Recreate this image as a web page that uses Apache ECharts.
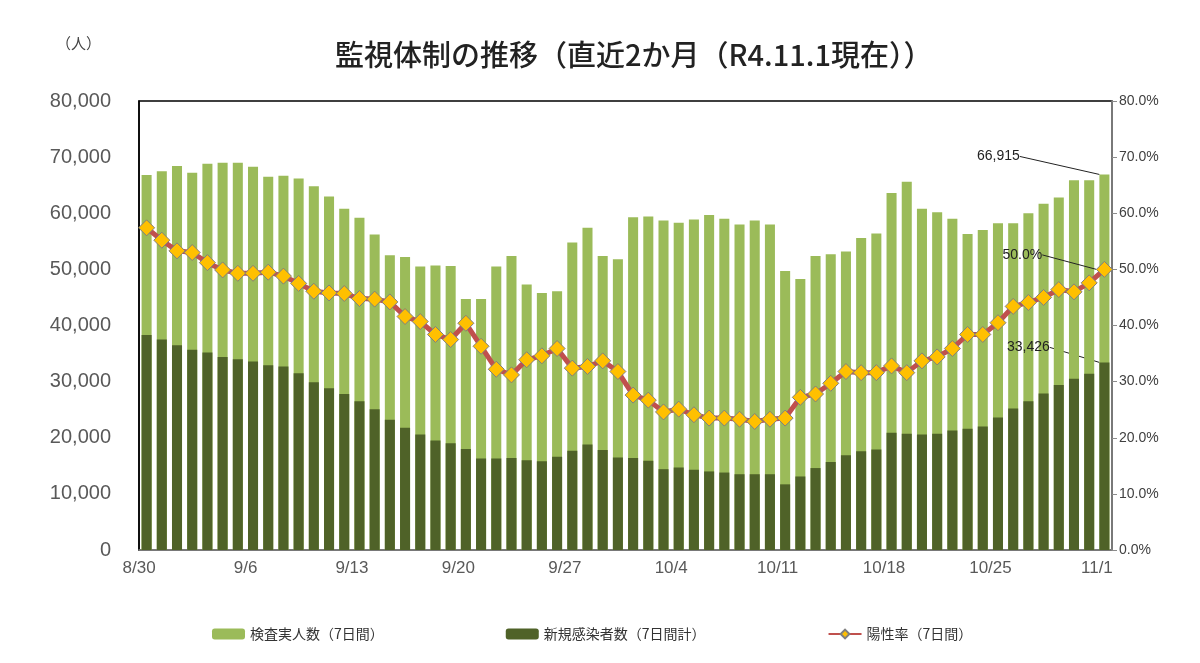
<!DOCTYPE html>
<html>
<head>
<meta charset="utf-8">
<script src="https://cdn.jsdelivr.net/npm/echarts@6/dist/echarts.min.js"></script>
<style>
  html, body { margin: 0; padding: 0; background: #fff; }
  #main { width: 1200px; height: 663px; }
</style>
</head>
<body>
<div id="main"></div>
<script>
// 8/30 - 11/1 (64日)
var days = [];
(function () {
    var d = new Date(2022, 7, 30);
    for (var i = 0; i < 64; i++) {
        days.push((d.getMonth() + 1) + '/' + d.getDate());
        d.setDate(d.getDate() + 1);
    }
})();

// 検査実人数（7日間）
var kensa = [
    66800, 67500, 68400, 67200, 68800, 69000, 69000, 68300, 66500, 66700,
    66200, 64800, 63000, 60800, 59200, 56200, 52500, 52200, 50500, 50700,
    50600, 44700, 44700, 50500, 52400, 47300, 45800, 46100, 54800, 57400,
    52400, 51800, 59300, 59400, 58700, 58300, 58900, 59700, 59000, 58000,
    58700, 58000, 49700, 48300, 52400, 52700, 53200, 55600, 56400, 63600,
    65600, 60800, 60200, 59000, 56300, 57000, 58200, 58200, 60000, 61700,
    62800, 65900, 65900, 66915
];
// 新規感染者数（7日間計）
var shinki = [
    38300, 37500, 36500, 35700, 35200, 34400, 34000, 33600, 32900, 32700,
    31500, 29900, 28800, 27800, 26500, 25100, 23200, 21800, 20600, 19500,
    19000, 18000, 16300, 16300, 16400, 16000, 15800, 16600, 17700, 18800,
    17800, 16500, 16400, 15900, 14400, 14700, 14300, 14000, 13800, 13500,
    13500, 13500, 11700, 13100, 14600, 15700, 16900, 17600, 17900, 20900,
    20700, 20600, 20700, 21300, 21600, 22000, 23600, 25200, 26500, 27900,
    29400, 30500, 31400, 33426
];
// 陽性率（7日間） %
var yousei = [
    57.4, 55.2, 53.3, 53.0, 51.2, 49.9, 49.3, 49.3, 49.5, 48.8,
    47.5, 46.1, 45.8, 45.7, 44.8, 44.7, 44.2, 41.6, 40.7, 38.4,
    37.5, 40.4, 36.3, 32.2, 31.2, 33.9, 34.6, 35.9, 32.4, 32.7,
    33.7, 31.8, 27.6, 26.7, 24.6, 25.1, 24.1, 23.5, 23.5, 23.3,
    22.9, 23.3, 23.5, 27.2, 27.8, 29.7, 31.8, 31.6, 31.6, 32.8,
    31.6, 33.7, 34.4, 35.9, 38.4, 38.4, 40.5, 43.4, 44.1, 45.0,
    46.4, 46.0, 47.6, 50.0
];

var last = days.length - 1;
var jp = "'Noto Sans CJK JP', sans-serif";
var num = "'Liberation Sans', Arial, sans-serif";

function withLastLabel(arr) {
    return arr.map(function (v, i) {
        return i === last ? { value: v, label: { show: true } } : v;
    });
}

var myChart = echarts.init(document.getElementById('main'));
var option = {
    animation: false,
    title: {
        text: '監視体制の推移（直近2か月（R4.11.1現在））',
        left: 330,
        top: 35,
        textStyle: { fontFamily: jp, fontSize: 29, fontWeight: 500, color: '#222' }
    },
    graphic: [{
        type: 'text',
        left: 56,
        top: 36,
        style: { text: '（人）', font: '15px ' + jp, fill: '#444' }
    }],
    legend: {
        left: 207,
        top: 622,
        itemGap: 122,
        itemWidth: 33,
        itemHeight: 11,
        textStyle: { fontFamily: jp, fontSize: 14, color: '#333' },
        data: ['検査実人数（7日間）', '新規感染者数（7日間計）', '陽性率（7日間）']
    },
    grid: {
        left: 139,
        right: 88,
        top: 101,
        bottom: 113,
        show: true,
        borderColor: '#000',
        borderWidth: 1.5
    },
    xAxis: {
        type: 'category',
        data: days,
        boundaryGap: true,
        axisLine: { lineStyle: { color: '#8c8c8c', width: 1.5 } },
        axisTick: { interval: 6, length: 6, lineStyle: { color: '#8c8c8c', width: 1.5 } },
        axisLabel: {
            interval: 6,
            margin: 10,
            formatter: function (v) { return '{a|' + v + '}'; },
            rich: { a: { fontFamily: num, fontSize: 17, color: '#595959', padding: [0, 15, 0, 0] } }
        }
    },
    yAxis: [{
        type: 'value',
        min: 0,
        max: 80000,
        interval: 10000,
        splitLine: { show: false },
        axisLine: { show: true, lineStyle: { color: '#000', width: 1.5 } },
        axisTick: { show: false },
        axisLabel: {
            margin: 28,
            fontFamily: num,
            fontSize: 20,
            color: '#595959',
            formatter: function (v) { return v.toLocaleString('en-US'); }
        }
    }, {
        type: 'value',
        min: 0,
        max: 80,
        interval: 10,
        position: 'right',
        splitLine: { show: false },
        axisLine: { show: true, lineStyle: { color: '#8c8c8c', width: 1.5 } },
        axisTick: { show: true, length: 5, lineStyle: { color: '#8c8c8c' } },
        axisLabel: {
            margin: 7,
            fontFamily: num,
            fontSize: 14,
            color: '#404040',
            formatter: function (v) { return v.toFixed(1) + '%'; }
        }
    }],
    series: [{
        name: '検査実人数（7日間）',
        type: 'bar',
        data: withLastLabel(kensa),
        barGap: '-100%',
        barCategoryGap: '34%',
        itemStyle: { color: '#9BBB59' },
        label: {
            show: false,
            position: 'top',
            fontFamily: num,
            fontSize: 14,
            color: '#222',
            formatter: function (p) { return p.value.toLocaleString('en-US'); }
        },
        labelLine: { show: true, lineStyle: { color: '#222', width: 1 } },
        labelLayout: function (p) {
            return p.dataIndex === last ? { dx: -106, dy: -6 } : {};
        }
    }, {
        name: '新規感染者数（7日間計）',
        type: 'bar',
        data: withLastLabel(shinki),
        itemStyle: { color: '#4F6228' },
        label: {
            show: false,
            position: 'top',
            fontFamily: num,
            fontSize: 14,
            color: '#222',
            formatter: function (p) { return p.value.toLocaleString('en-US'); }
        },
        labelLine: { show: true, lineStyle: { color: '#222', width: 1 } },
        labelLayout: function (p) {
            return p.dataIndex === last ? { dx: -76, dy: -3 } : {};
        }
    }, {
        name: '陽性率（7日間）',
        type: 'line',
        yAxisIndex: 1,
        data: withLastLabel(yousei),
        symbol: 'diamond',
        symbolSize: 16,
        showAllSymbol: true,
        lineStyle: { color: '#C0504D', width: 5 },
        itemStyle: { color: '#FFC000', borderColor: '#7F7F7F', borderWidth: 1 },
        label: {
            show: false,
            position: 'top',
            fontFamily: num,
            fontSize: 14,
            color: '#222',
            formatter: function (p) { return p.value.toFixed(1) + '%'; }
        },
        labelLine: { show: true, lineStyle: { color: '#222', width: 1 } },
        labelLayout: function (p) {
            return p.dataIndex === last ? { dx: -82, dy: 6 } : {};
        }
    }]
};
myChart.setOption(option);
</script>
</body>
</html>
